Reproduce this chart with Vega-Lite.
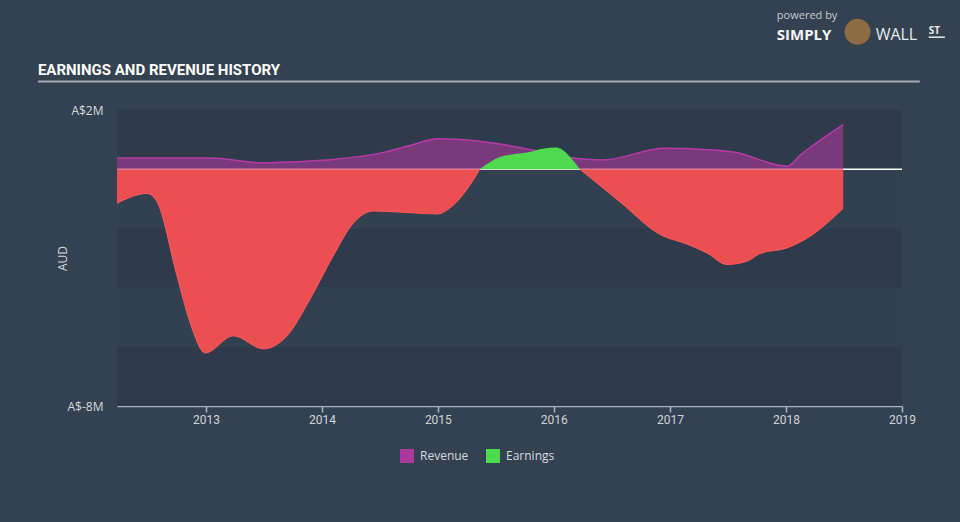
{
  "$schema": "https://vega.github.io/schema/vega-lite/v6.json",
  "width": 785,
  "height": 296,
  "autosize": "none",
  "padding": {"left": 117, "top": 110, "right": 58, "bottom": 116},
  "background": "#344151",
  "datasets": {
    "bands": [
      {"top": 2, "bottom": 0, "shade": "dark"},
      {"top": 0, "bottom": -2, "shade": "light"},
      {"top": -2, "bottom": -4, "shade": "dark"},
      {"top": -4, "bottom": -6, "shade": "light"},
      {"top": -6, "bottom": -8, "shade": "dark"}
    ],
    "rows": [
      {"date": "2012-03-27", "value": 0.38, "series": "Revenue", "segment": "rev"},
      {"date": "2012-09-30", "value": 0.38, "series": "Revenue", "segment": "rev"},
      {"date": "2013-01-15", "value": 0.38, "series": "Revenue", "segment": "rev"},
      {"date": "2013-06-20", "value": 0.22, "series": "Revenue", "segment": "rev"},
      {"date": "2013-11-15", "value": 0.27, "series": "Revenue", "segment": "rev"},
      {"date": "2014-02-05", "value": 0.33, "series": "Revenue", "segment": "rev"},
      {"date": "2014-07-10", "value": 0.56, "series": "Revenue", "segment": "rev"},
      {"date": "2014-10-05", "value": 0.80, "series": "Revenue", "segment": "rev"},
      {"date": "2014-12-31", "value": 1.03, "series": "Revenue", "segment": "rev"},
      {"date": "2015-03-15", "value": 1.00, "series": "Revenue", "segment": "rev"},
      {"date": "2015-07-15", "value": 0.85, "series": "Revenue", "segment": "rev"},
      {"date": "2015-10-30", "value": 0.64, "series": "Revenue", "segment": "rev"},
      {"date": "2016-02-15", "value": 0.40, "series": "Revenue", "segment": "rev"},
      {"date": "2016-06-01", "value": 0.31, "series": "Revenue", "segment": "rev"},
      {"date": "2016-12-15", "value": 0.71, "series": "Revenue", "segment": "rev"},
      {"date": "2017-05-01", "value": 0.66, "series": "Revenue", "segment": "rev"},
      {"date": "2017-07-20", "value": 0.58, "series": "Revenue", "segment": "rev"},
      {"date": "2018-01-05", "value": 0.10, "series": "Revenue", "segment": "rev"},
      {"date": "2018-02-14", "value": 0.47, "series": "Revenue", "segment": "rev"},
      {"date": "2018-03-26", "value": 0.80, "series": "Revenue", "segment": "rev"},
      {"date": "2018-06-30", "value": 1.51, "series": "Revenue", "segment": "rev"},

      {"date": "2012-03-27", "value": -1.15, "series": "Earnings", "segment": "neg1"},
      {"date": "2012-06-30", "value": -0.82, "series": "Earnings", "segment": "neg1"},
      {"date": "2012-07-31", "value": -1.10, "series": "Earnings", "segment": "neg1"},
      {"date": "2012-10-02", "value": -3.61, "series": "Earnings", "segment": "neg1"},
      {"date": "2012-11-12", "value": -5.18, "series": "Earnings", "segment": "neg1"},
      {"date": "2012-12-30", "value": -6.21, "series": "Earnings", "segment": "neg1"},
      {"date": "2013-03-28", "value": -5.63, "series": "Earnings", "segment": "neg1"},
      {"date": "2013-07-01", "value": -6.07, "series": "Earnings", "segment": "neg1"},
      {"date": "2013-09-13", "value": -5.63, "series": "Earnings", "segment": "neg1"},
      {"date": "2013-11-24", "value": -4.40, "series": "Earnings", "segment": "neg1"},
      {"date": "2014-02-05", "value": -2.94, "series": "Earnings", "segment": "neg1"},
      {"date": "2014-04-10", "value": -1.82, "series": "Earnings", "segment": "neg1"},
      {"date": "2014-06-12", "value": -1.41, "series": "Earnings", "segment": "neg1"},
      {"date": "2014-09-03", "value": -1.45, "series": "Earnings", "segment": "neg1"},
      {"date": "2014-12-30", "value": -1.51, "series": "Earnings", "segment": "neg1"},
      {"date": "2015-02-19", "value": -1.21, "series": "Earnings", "segment": "neg1"},
      {"date": "2015-04-22", "value": -0.37, "series": "Earnings", "segment": "neg1"},
      {"date": "2015-05-13", "value": 0, "series": "Earnings", "segment": "neg1"},

      {"date": "2015-05-13", "value": 0, "series": "Earnings", "segment": "pos"},
      {"date": "2015-07-15", "value": 0.41, "series": "Earnings", "segment": "pos"},
      {"date": "2015-08-24", "value": 0.50, "series": "Earnings", "segment": "pos"},
      {"date": "2015-10-08", "value": 0.56, "series": "Earnings", "segment": "pos"},
      {"date": "2015-11-27", "value": 0.69, "series": "Earnings", "segment": "pos"},
      {"date": "2016-01-10", "value": 0.73, "series": "Earnings", "segment": "pos"},
      {"date": "2016-01-29", "value": 0.65, "series": "Earnings", "segment": "pos"},
      {"date": "2016-03-01", "value": 0.30, "series": "Earnings", "segment": "pos"},
      {"date": "2016-03-23", "value": 0, "series": "Earnings", "segment": "pos"},

      {"date": "2016-03-23", "value": 0, "series": "Earnings", "segment": "neg2"},
      {"date": "2016-07-27", "value": -1.10, "series": "Earnings", "segment": "neg2"},
      {"date": "2016-12-01", "value": -2.21, "series": "Earnings", "segment": "neg2"},
      {"date": "2017-02-23", "value": -2.53, "series": "Earnings", "segment": "neg2"},
      {"date": "2017-04-27", "value": -2.83, "series": "Earnings", "segment": "neg2"},
      {"date": "2017-06-29", "value": -3.22, "series": "Earnings", "segment": "neg2"},
      {"date": "2017-08-31", "value": -3.11, "series": "Earnings", "segment": "neg2"},
      {"date": "2017-10-11", "value": -2.85, "series": "Earnings", "segment": "neg2"},
      {"date": "2018-01-04", "value": -2.66, "series": "Earnings", "segment": "neg2"},
      {"date": "2018-03-17", "value": -2.27, "series": "Earnings", "segment": "neg2"},
      {"date": "2018-06-30", "value": -1.32, "series": "Earnings", "segment": "neg2"}
    ]
  },
  "layer": [
    {
      "data": {"name": "bands"},
      "transform": [{"filter": "datum.shade == 'dark'"}],
      "mark": {"type": "rect", "color": "#2f3b4a"},
      "encoding": {
        "y": {
          "field": "top", "type": "quantitative", "title": "AUD",
          "scale": {"domain": [-8, 2], "nice": false, "zero": false},
          "axis": {
            "values": [2, -8],
            "labelExpr": "'A$' + datum.value + 'M'",
            "domain": false, "ticks": false, "grid": false,
            "labelPadding": 14, "labelFlush": false,
            "labelColor": "#d6dade", "labelFont": "Open Sans", "labelFontSize": 12,
            "titleColor": "#d6dade", "titleFont": "Open Sans", "titleFontSize": 12,
            "titleFontWeight": "normal", "titleX": -55, "titleY": 148,
            "titleAngle": -90, "titleAlign": "center", "titleBaseline": "middle"
          }
        },
        "y2": {"field": "bottom"}
      }
    },
    {
      "data": {"name": "bands"},
      "transform": [{"filter": "datum.shade == 'light'"}],
      "mark": {"type": "rect", "color": "#334050"},
      "encoding": {
        "y": {"field": "top", "type": "quantitative", "title": "AUD"},
        "y2": {"field": "bottom"}
      }
    },
    {
      "data": {"values": [{}]},
      "mark": {"type": "rule", "color": "#ffffff", "strokeWidth": 1.5},
      "encoding": {"y": {"datum": 0, "type": "quantitative"}}
    },
    {
      "data": {"name": "rows"},
      "transform": [{"filter": "datum.segment == 'rev'"}],
      "mark": {"type": "area", "interpolate": "monotone", "fillOpacity": 0.6},
      "encoding": {
        "x": {
          "field": "date", "type": "temporal", "title": null,
          "scale": {"domain": [{"year": 2012, "month": 3, "date": 27}, {"year": 2019, "month": 1, "date": 1}]},
          "axis": {
            "values": [{"year": 2013}, {"year": 2014}, {"year": 2015}, {"year": 2016}, {"year": 2017}, {"year": 2018}, {"year": 2019}],
            "format": "%Y", "labelFlush": false, "grid": false,
            "domainColor": "#aab4c0", "domainWidth": 1.5,
            "tickColor": "#aab4c0", "tickSize": 6, "tickWidth": 1.5,
            "labelColor": "#cfd4da", "labelFont": "Roboto",
            "labelFontSize": 12, "labelPadding": 2
          }
        },
        "y": {"field": "value", "type": "quantitative", "title": "AUD", "stack": null},
        "y2": {"datum": 0},
        "color": {
          "field": "series", "type": "nominal",
          "scale": {"domain": ["Revenue", "Earnings"], "range": ["#ac389c", "#4fd94f"]},
          "legend": {
            "orient": "none", "legendX": 283, "legendY": 339,
            "direction": "horizontal", "title": null,
            "symbolType": "square", "symbolSize": 196, "symbolOpacity": 1,
            "symbolStrokeWidth": 0,
            "labelColor": "#d6dade", "labelFont": "Open Sans", "labelFontSize": 12,
            "labelOffset": 6, "columnPadding": 17
          }
        }
      }
    },
    {
      "data": {"name": "rows"},
      "transform": [{"filter": "datum.segment == 'rev'"}],
      "mark": {"type": "line", "interpolate": "monotone", "color": "#b83aa8", "strokeWidth": 1.5},
      "encoding": {
        "x": {"field": "date", "type": "temporal", "title": null},
        "y": {"field": "value", "type": "quantitative", "title": "AUD"}
      }
    },
    {
      "data": {"name": "rows"},
      "transform": [{"filter": "datum.segment == 'neg1' || datum.segment == 'neg2'"}],
      "mark": {"type": "area", "interpolate": "monotone", "color": "#eb4f51", "opacity": 1},
      "encoding": {
        "x": {"field": "date", "type": "temporal", "title": null},
        "y": {"field": "value", "type": "quantitative", "title": "AUD", "stack": null},
        "y2": {"datum": 0},
        "detail": {"field": "segment", "type": "nominal"}
      }
    },
    {
      "data": {"name": "rows"},
      "transform": [{"filter": "datum.segment == 'neg1' || datum.segment == 'neg2'"}],
      "mark": {"type": "line", "interpolate": "monotone", "color": "#ff5a5a", "strokeWidth": 1},
      "encoding": {
        "x": {"field": "date", "type": "temporal", "title": null},
        "y": {"field": "value", "type": "quantitative", "title": "AUD"},
        "detail": {"field": "segment", "type": "nominal"}
      }
    },
    {
      "data": {"name": "rows"},
      "transform": [{"filter": "datum.segment == 'pos'"}],
      "mark": {"type": "area", "interpolate": "monotone", "opacity": 1},
      "encoding": {
        "x": {"field": "date", "type": "temporal", "title": null},
        "y": {"field": "value", "type": "quantitative", "title": "AUD", "stack": null},
        "y2": {"datum": 0},
        "color": {"field": "series", "type": "nominal"}
      }
    },
    {
      "data": {"values": [{}]},
      "mark": {"type": "text", "text": "EARNINGS AND REVENUE HISTORY", "align": "left", "baseline": "alphabetic", "font": "Roboto", "fontSize": 15, "fontWeight": "bold", "color": "#ffffff"},
      "encoding": {
        "x": {"datum": {"year": 2011, "month": 7, "date": 22}, "type": "temporal"},
        "y": {"datum": 3.18, "type": "quantitative"}
      }
    },
    {
      "data": {"values": [{}]},
      "mark": {"type": "rule", "color": "#a3abb4", "strokeWidth": 2},
      "encoding": {
        "x": {"datum": {"year": 2011, "month": 7, "date": 22}, "type": "temporal"},
        "x2": {"datum": {"year": 2019, "month": 2, "date": 26}},
        "y": {"datum": 2.963, "type": "quantitative"}
      }
    },
    {
      "data": {"values": [{}]},
      "mark": {"type": "text", "text": "powered by", "align": "left", "baseline": "middle", "font": "Open Sans", "fontSize": 11, "color": "#c4cad0"},
      "encoding": {
        "x": {"datum": {"year": 2017, "month": 12, "date": 3}, "type": "temporal"},
        "y": {"datum": 5.19, "type": "quantitative"}
      }
    },
    {
      "data": {"values": [{}]},
      "mark": {"type": "text", "text": "SIMPLY", "align": "left", "baseline": "middle", "font": "Open Sans", "fontSize": 15, "fontWeight": "bold", "color": "#f2f4f6"},
      "encoding": {
        "x": {"datum": {"year": 2017, "month": 12, "date": 3}, "type": "temporal"},
        "y": {"datum": 4.53, "type": "quantitative"}
      }
    },
    {
      "data": {"values": [{}]},
      "mark": {"type": "point", "shape": "circle", "filled": true, "size": 676, "color": "#8d6b43", "opacity": 1},
      "encoding": {
        "x": {"datum": {"year": 2018, "month": 8, "date": 14}, "type": "temporal"},
        "y": {"datum": 4.64, "type": "quantitative"}
      }
    },
    {
      "data": {"values": [{}]},
      "mark": {"type": "text", "text": "WALL", "align": "left", "baseline": "middle", "font": "Open Sans", "fontSize": 16, "color": "#e8eaec"},
      "encoding": {
        "x": {"datum": {"year": 2018, "month": 10, "date": 10}, "type": "temporal"},
        "y": {"datum": 4.53, "type": "quantitative"}
      }
    },
    {
      "data": {"values": [{}]},
      "mark": {"type": "text", "text": "ST", "align": "left", "baseline": "middle", "font": "Open Sans", "fontSize": 10, "fontWeight": "bold", "color": "#e8eaec"},
      "encoding": {
        "x": {"datum": {"year": 2019, "month": 3, "date": 26}, "type": "temporal"},
        "y": {"datum": 4.68, "type": "quantitative"}
      }
    },
    {
      "data": {"values": [{}]},
      "mark": {"type": "rule", "color": "#e8eaec", "strokeWidth": 1.5},
      "encoding": {
        "x": {"datum": {"year": 2019, "month": 3, "date": 26}, "type": "temporal"},
        "x2": {"datum": {"year": 2019, "month": 5, "date": 16}},
        "y": {"datum": 4.46, "type": "quantitative"}
      }
    }
  ],
  "config": {
    "view": {"stroke": null}
  }
}
